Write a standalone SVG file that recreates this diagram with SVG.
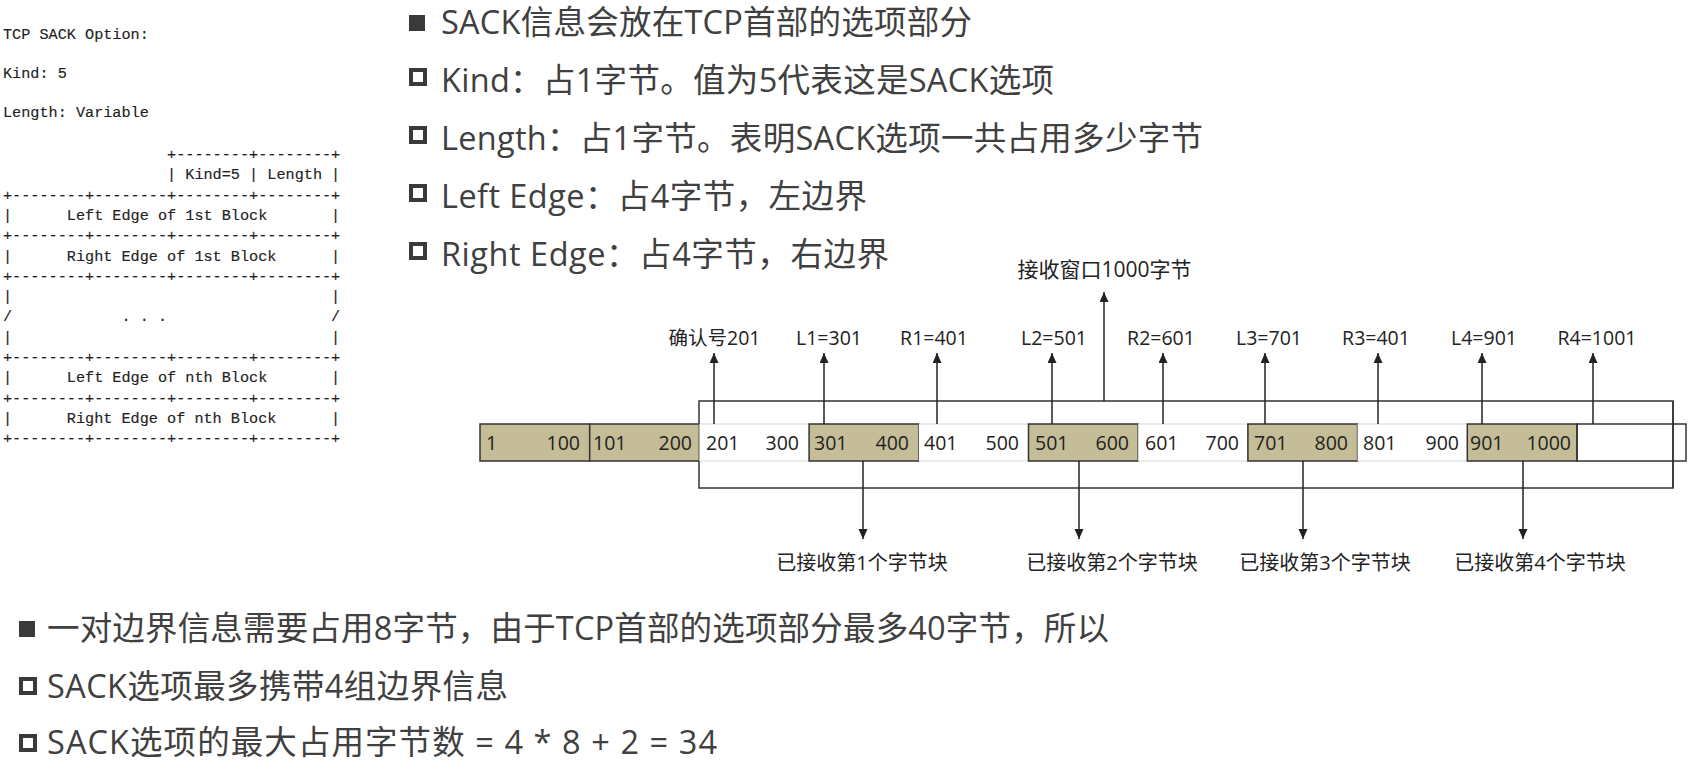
<svg xmlns="http://www.w3.org/2000/svg" width="1690" height="768" viewBox="0 0 1690 768">
<style>
.mono{font-family:"Liberation Mono",monospace;font-size:15.2px;fill:#222;stroke:#222;stroke-width:0.15;white-space:pre}
.bt{font-family:"Open Sans","Noto Sans CJK SC",sans-serif;font-size:32.5px;fill:#404040}
.lb{font-family:"Open Sans","Noto Sans CJK SC",sans-serif;font-size:19.5px;fill:#222}
.dl{font-family:"Open Sans","Noto Sans CJK SC",sans-serif;font-size:20px;fill:#222;text-anchor:middle}
.num{font-family:"Open Sans","Noto Sans CJK SC",sans-serif;font-size:19.5px;fill:#222}
.c{text-anchor:middle}
.e{text-anchor:end}
.blk{fill:#C4BD97;stroke:#333;stroke-width:1.5}
.wc{fill:#fff;stroke:none}
.faint{stroke:#d6d6d6;stroke-width:1}
.dark{fill:none;stroke:#333;stroke-width:1.5}
.arr{stroke:#222;stroke-width:1.5;fill:none;marker-end:url(#ah)}
.bul{fill:#3a3a3a}
.hbul{fill:none;stroke:#3a3a3a;stroke-width:4}
</style>
<defs>
<marker id="ah" markerUnits="userSpaceOnUse" markerWidth="11" markerHeight="10" refX="10" refY="4.5" orient="auto">
<path d="M0,0 L10,4.5 L0,9 z" fill="#222"/>
</marker>
</defs>
<rect width="1690" height="768" fill="#fff"/>

<g id="ascii-spec" xml:space="preserve">
<text class="mono" x="3" y="39">TCP SACK Option:</text>
<text class="mono" x="3" y="78">Kind: 5</text>
<text class="mono" x="3" y="117">Length: Variable</text>
<text class="mono" x="3" y="159">                  +--------+--------+</text>
<text class="mono" x="3" y="179.3">                  | Kind=5 | Length |</text>
<text class="mono" x="3" y="199.6">+--------+--------+--------+--------+</text>
<text class="mono" x="3" y="219.9">|      Left Edge of 1st Block       |</text>
<text class="mono" x="3" y="240.2">+--------+--------+--------+--------+</text>
<text class="mono" x="3" y="260.5">|      Right Edge of 1st Block      |</text>
<text class="mono" x="3" y="280.8">+--------+--------+--------+--------+</text>
<text class="mono" x="3" y="301.1">|                                   |</text>
<text class="mono" x="3" y="321.4">/            . . .                  /</text>
<text class="mono" x="3" y="341.7">|                                   |</text>
<text class="mono" x="3" y="362">+--------+--------+--------+--------+</text>
<text class="mono" x="3" y="382.3">|      Left Edge of nth Block       |</text>
<text class="mono" x="3" y="402.6">+--------+--------+--------+--------+</text>
<text class="mono" x="3" y="422.9">|      Right Edge of nth Block      |</text>
<text class="mono" x="3" y="443.2">+--------+--------+--------+--------+</text>
</g>

<g id="top-bullets">
<rect class="bul" x="409" y="15" width="16" height="16"/>
<text class="bt" x="441" y="34" textLength="531">SACK信息会放在TCP首部的选项部分</text>
<rect class="hbul" x="411" y="70" width="14" height="14"/>
<text class="bt" x="441" y="92" textLength="613">Kind：占1字节。值为5代表这是SACK选项</text>
<rect class="hbul" x="411" y="128" width="14" height="14"/>
<text class="bt" x="441" y="150" textLength="762">Length：占1字节。表明SACK选项一共占用多少字节</text>
<rect class="hbul" x="411" y="186" width="14" height="14"/>
<text class="bt" x="441" y="208" textLength="426">Left Edge：占4字节，左边界</text>
<rect class="hbul" x="411" y="244" width="14" height="14"/>
<text class="bt" x="441" y="266" textLength="448">Right Edge：占4字节，右边界</text>
</g>

<g id="bottom-bullets">
<rect class="bul" x="19" y="621" width="16" height="16"/>
<text class="bt" x="47" y="640" textLength="1062">一对边界信息需要占用8字节，由于TCP首部的选项部分最多40字节，所以</text>
<rect class="hbul" x="21" y="679" width="14" height="14"/>
<text class="bt" x="47" y="698" textLength="461">SACK选项最多携带4组边界信息</text>
<rect class="hbul" x="21" y="736" width="14" height="14"/>
<text class="bt" x="47" y="754" textLength="670">SACK选项的最大占用字节数 = 4 * 8 + 2 = 34</text>
</g>

<g id="window">
<rect class="dark" x="699" y="401" width="974" height="87"/>
</g>

<g id="byte-strip">
<g id="cell-1-100"><rect class="blk" x="480" y="424" width="109.7" height="37"/><text class="num" x="486" y="450">1</text><text class="num e" x="580" y="450">100</text></g>
<g id="cell-101-200"><rect class="blk" x="589.7" y="424" width="109.7" height="37"/><text class="num" x="593" y="450">101</text><text class="num e" x="692" y="450">200</text></g>
<g id="cell-201-300"><rect class="wc" x="699.4" y="424" width="109.7" height="37"/><line class="faint" x1="699.4" y1="424" x2="809.1" y2="424"/><line class="faint" x1="699.4" y1="461" x2="809.1" y2="461"/><text class="num" x="706" y="450">201</text><text class="num e" x="799" y="450">300</text></g>
<g id="cell-301-400"><rect class="blk" x="809.1" y="424" width="109.7" height="37"/><text class="num" x="814" y="450">301</text><text class="num e" x="909" y="450">400</text></g>
<g id="cell-401-500"><rect class="wc" x="918.8" y="424" width="109.7" height="37"/><line class="faint" x1="918.8" y1="424" x2="1028.5" y2="424"/><line class="faint" x1="918.8" y1="461" x2="1028.5" y2="461"/><text class="num" x="924" y="450">401</text><text class="num e" x="1019" y="450">500</text></g>
<g id="cell-501-600"><rect class="blk" x="1028.5" y="424" width="109.7" height="37"/><text class="num" x="1035" y="450">501</text><text class="num e" x="1129" y="450">600</text></g>
<g id="cell-601-700"><rect class="wc" x="1138.2" y="424" width="109.7" height="37"/><line class="faint" x1="1138.2" y1="424" x2="1247.9" y2="424"/><line class="faint" x1="1138.2" y1="461" x2="1247.9" y2="461"/><text class="num" x="1145" y="450">601</text><text class="num e" x="1239" y="450">700</text></g>
<g id="cell-701-800"><rect class="blk" x="1247.9" y="424" width="109.7" height="37"/><text class="num" x="1254" y="450">701</text><text class="num e" x="1348" y="450">800</text></g>
<g id="cell-801-900"><rect class="wc" x="1357.6" y="424" width="109.7" height="37"/><line class="faint" x1="1357.6" y1="424" x2="1467.3" y2="424"/><line class="faint" x1="1357.6" y1="461" x2="1467.3" y2="461"/><text class="num" x="1363" y="450">801</text><text class="num e" x="1459" y="450">900</text></g>
<g id="cell-901-1000"><rect class="blk" x="1467.3" y="424" width="109.7" height="37"/><text class="num" x="1470" y="450">901</text><text class="num e" x="1571" y="450">1000</text></g>
<g id="cell-empty"><rect class="dark" x="1577" y="424" width="109" height="37"/></g>
</g>

<g id="window-right-edge">
<line x1="1673" y1="401" x2="1673" y2="488" stroke="#333" stroke-width="1.5"/>
</g>

<g id="connectors">
<line class="arr" x1="714" y1="424" x2="714" y2="353"/>
<line class="arr" x1="824" y1="424" x2="824" y2="353"/>
<line class="arr" x1="937" y1="424" x2="937" y2="353"/>
<line class="arr" x1="1052" y1="424" x2="1052" y2="353"/>
<line class="arr" x1="1104" y1="401" x2="1104" y2="292"/>
<line class="arr" x1="1163" y1="424" x2="1163" y2="353"/>
<line class="arr" x1="1265" y1="424" x2="1265" y2="353"/>
<line class="arr" x1="1378" y1="424" x2="1378" y2="353"/>
<line class="arr" x1="1482" y1="424" x2="1482" y2="353"/>
<line class="arr" x1="1593" y1="424" x2="1593" y2="353"/>
<line class="arr" x1="863" y1="461" x2="863" y2="539"/>
<line class="arr" x1="1079" y1="461" x2="1079" y2="539"/>
<line class="arr" x1="1303" y1="461" x2="1303" y2="539"/>
<line class="arr" x1="1523" y1="461" x2="1523" y2="539"/>
</g>

<g id="top-labels">
<text class="lb c" x="714.5" y="345">确认号201</text>
<text class="lb c" x="829" y="345">L1=301</text>
<text class="lb c" x="934" y="345">R1=401</text>
<text class="lb c" x="1054" y="345">L2=501</text>
<text class="lb c" x="1161" y="345">R2=601</text>
<text class="lb c" x="1269" y="345">L3=701</text>
<text class="lb c" x="1376" y="345">R3=401</text>
<text class="lb c" x="1484" y="345">L4=901</text>
<text class="lb c" x="1597" y="345">R4=1001</text>
<text class="lb c" x="1104.5" y="277" style="font-size:21px">接收窗口1000字节</text>
</g>

<g id="bottom-labels">
<text class="dl" x="862" y="570">已接收第1个字节块</text>
<text class="dl" x="1112" y="570">已接收第2个字节块</text>
<text class="dl" x="1325" y="570">已接收第3个字节块</text>
<text class="dl" x="1540" y="570">已接收第4个字节块</text>
</g>
</svg>
